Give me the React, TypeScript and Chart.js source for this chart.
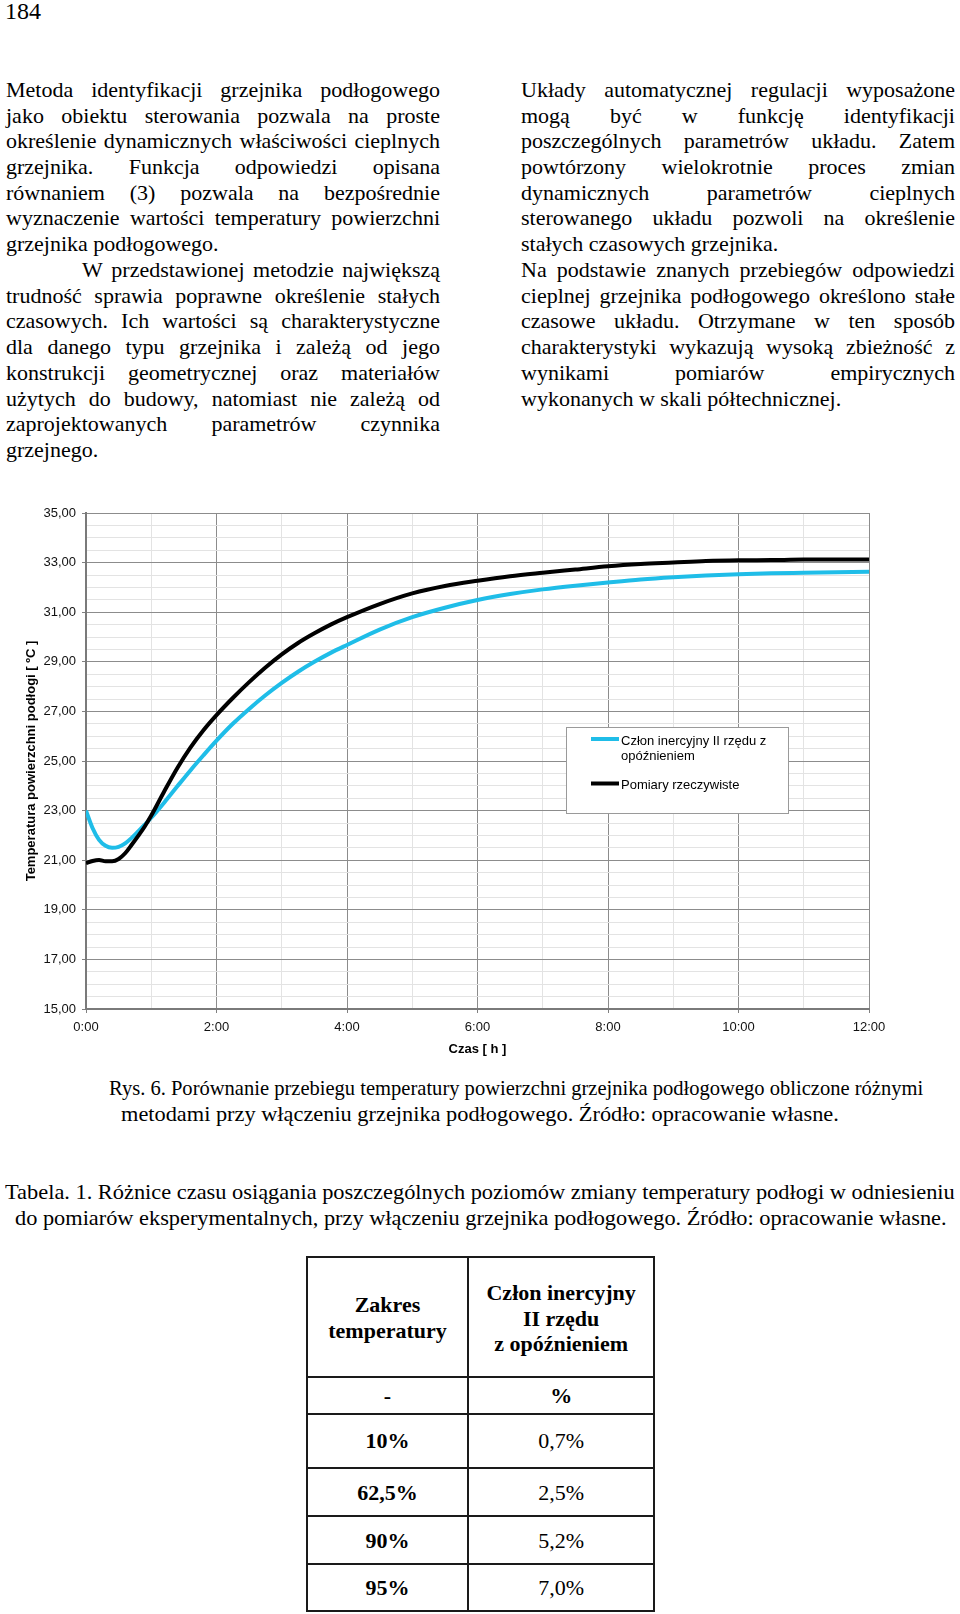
import React, { useEffect, useLayoutEffect, useRef } from "react";
import { Chart, registerables } from "chart.js";

Chart.register(...registerables);

// ---------- chart data ----------
const hours = [0, 0.1, 0.2, 0.3, 0.4, 0.5, 0.6, 0.7, 0.8, 0.9, 1.0, 1.2, 1.4, 1.6, 1.8, 2.0, 2.25, 2.5, 2.75, 3.0, 3.25, 3.5, 3.75, 4.0, 4.5, 5.0, 5.5, 6.0, 6.5, 7.0, 7.5, 8.0, 8.5, 9.0, 9.5, 10.0, 10.5, 11.0, 11.5, 12.0];
const modelTemps = [23.0, 22.3, 21.82, 21.58, 21.5, 21.54, 21.68, 21.9, 22.16, 22.43, 22.71, 23.33, 23.98, 24.62, 25.23, 25.82, 26.5, 27.1, 27.65, 28.15, 28.6, 29.0, 29.36, 29.68, 30.3, 30.8, 31.18, 31.49, 31.73, 31.92, 32.07, 32.2, 32.32, 32.41, 32.48, 32.53, 32.57, 32.59, 32.61, 32.63];
const measuredTemps = [20.88, 20.97, 21.01, 20.96, 20.96, 21.05, 21.28, 21.62, 21.98, 22.36, 22.8, 23.78, 24.72, 25.54, 26.24, 26.85, 27.54, 28.18, 28.77, 29.3, 29.76, 30.15, 30.5, 30.8, 31.33, 31.76, 32.06, 32.27, 32.45, 32.59, 32.72, 32.85, 32.94, 33.0, 33.06, 33.09, 33.1, 33.12, 33.12, 33.13];
const seriesNames = ["Człon inercyjny II rzędu z opóźnieniem", "Pomiary rzeczywiste"];
const legendText = [["Człon inercyjny II rzędu z", "opóźnieniem"], ["Pomiary rzeczywiste"]];
const xTitle = "Czas [ h ]";
const yTitle = "Temperatura powierzchni podłogi [ ºC ]";
const yMin = 15;
const yMax = 35;
const xMin = 0;
const xMax = 12;

// ---------- page text ----------
const leftLines = [
  "Metoda identyfikacji grzejnika podłogowego",
  "jako obiektu sterowania pozwala na proste",
  "określenie dynamicznych właściwości cieplnych",
  "grzejnika. Funkcja odpowiedzi opisana",
  "równaniem (3) pozwala na bezpośrednie",
  "wyznaczenie wartości temperatury powierzchni",
  "grzejnika podłogowego.",
  "W przedstawionej metodzie największą",
  "trudność sprawia poprawne określenie stałych",
  "czasowych. Ich wartości są charakterystyczne",
  "dla danego typu grzejnika i zależą od jego",
  "konstrukcji geometrycznej oraz materiałów",
  "użytych do budowy, natomiast nie zależą od",
  "zaprojektowanych parametrów czynnika",
  "grzejnego.",
];
const leftLast = [6, 14];
const leftIndent = [7];
const rightLines = [
  "Układy automatycznej regulacji wyposażone",
  "mogą być w funkcję identyfikacji",
  "poszczególnych parametrów układu. Zatem",
  "powtórzony wielokrotnie proces zmian",
  "dynamicznych parametrów cieplnych",
  "sterowanego układu pozwoli na określenie",
  "stałych czasowych grzejnika.",
  "Na podstawie znanych przebiegów odpowiedzi",
  "cieplnej grzejnika podłogowego określono stałe",
  "czasowe układu. Otrzymane w ten sposób",
  "charakterystyki wykazują wysoką zbieżność z",
  "wynikami pomiarów empirycznych",
  "wykonanych w skali półtechnicznej.",
];
const rightLast = [6, 12];
const figCaption = [
  "Rys. 6. Porównanie przebiegu temperatury powierzchni grzejnika podłogowego obliczone różnymi",
  "metodami przy włączeniu grzejnika podłogowego. Źródło: opracowanie własne.",
];
const tableCaption = [
  "Tabela. 1. Różnice czasu osiągania poszczególnych poziomów zmiany temperatury podłogi w odniesieniu",
  "do pomiarów eksperymentalnych, przy włączeniu grzejnika podłogowego. Źródło: opracowanie własne.",
];
const tableHeadLeft = ["Zakres", "temperatury"];
const tableHeadRight = ["Człon inercyjny", "II rzędu", "z opóźnieniem"];
const tableUnits = ["-", "%"];
const tableLevels = ["10%", "62,5%", "90%", "95%"];
const tableDiffs = ["0,7%", "2,5%", "5,2%", "7,0%"];

const SERIF = "'Liberation Serif', 'Times New Roman', serif";
const SANS = "'Liberation Sans', Arial, sans-serif";
const CYAN = "#1fbde8";
const FS = 22;
const LH = 26;
const BASE = (LH - 1.107 * FS) / 2 + 0.891 * FS;

const isMajorY = (v: number) => Math.abs(((v - yMin) / 2) - Math.round((v - yMin) / 2)) < 1e-6;
const isMajorX = (v: number) => Math.abs(v / 2 - Math.round(v / 2)) < 1e-6;

const legendPlugin = {
  id: "boxLegend",
  afterDraw(chart: any) {
    const ctx = chart.ctx as CanvasRenderingContext2D;
    ctx.save();
    const bx = 566, by = 237, bw = 222, bh = 86;
    ctx.fillStyle = "#ffffff";
    ctx.fillRect(bx, by, bw, bh);
    ctx.strokeStyle = "#9a9a9a";
    ctx.lineWidth = 1;
    ctx.strokeRect(bx + 0.5, by + 0.5, bw, bh);
    const colors = [CYAN, "#000000"];
    const lineY = [249, 293.5];
    const textY = [[251.5, 266.5], [295]];
    ctx.font = `13px ${SANS}`;
    ctx.textBaseline = "middle";
    ctx.textAlign = "left";
    for (let i = 0; i < 2; i++) {
      ctx.strokeStyle = colors[i];
      ctx.lineWidth = 4;
      ctx.beginPath();
      ctx.moveTo(591, lineY[i]);
      ctx.lineTo(619, lineY[i]);
      ctx.stroke();
      ctx.fillStyle = "#000";
      legendText[i].forEach((t, j) => ctx.fillText(t, 621, textY[i][j]));
    }
    ctx.restore();
  },
};

function TempChart() {
  const ref = useRef<HTMLCanvasElement>(null);
  useEffect(() => {
    if (!ref.current) return;
    const chart = new Chart(ref.current, {
      type: "line",
      data: {
        datasets: [
          {
            label: seriesNames[1],
            data: hours.map((h, i) => ({ x: h, y: measuredTemps[i] })),
            borderColor: "#000000",
            borderWidth: 4,
            pointRadius: 0,
            cubicInterpolationMode: "monotone",
            fill: false,
          },
          {
            label: seriesNames[0],
            data: hours.map((h, i) => ({ x: h, y: modelTemps[i] })),
            borderColor: CYAN,
            borderWidth: 4,
            pointRadius: 0,
            cubicInterpolationMode: "monotone",
            fill: false,
          },
        ],
      },
      options: {
        animation: false,
        responsive: false,
        maintainAspectRatio: false,
        layout: { padding: { left: 0, top: 23, right: 91, bottom: 0 } },
        plugins: { legend: { display: false }, tooltip: { enabled: false } },
        scales: {
          x: {
            type: "linear",
            min: xMin,
            max: xMax,
            afterFit: (s: any) => { s.height = 51; },
            ticks: {
              stepSize: 1,
              autoSkip: false,
              maxRotation: 0,
              padding: 7,
              color: "#111",
              font: { family: SANS, size: 13 },
              callback: (v: any) => (isMajorX(Number(v)) ? `${Number(v)}:00` : ""),
            },
            grid: {
              color: (c: any) => (c.tick && isMajorX(c.tick.value) ? "#8c8c8c" : "#e3e3e3"),
              tickColor: (c: any) => (c.tick && isMajorX(c.tick.value) ? "#808080" : "rgba(0,0,0,0)"),
              tickLength: 4,
              lineWidth: 1,
            },
            border: { display: true, color: "#7a7a7a", width: 2 },
            title: {
              display: true,
              text: xTitle,
              color: "#000",
              font: { family: SANS, size: 13, weight: "bold" },
              padding: { top: 0, bottom: 3 },
            },
          },
          y: {
            type: "linear",
            min: yMin,
            max: yMax,
            afterFit: (s: any) => { s.width = 86; },
            ticks: {
              stepSize: 0.5,
              autoSkip: false,
              padding: 6,
              color: "#111",
              font: { family: SANS, size: 13 },
              callback: (v: any) => (isMajorY(Number(v)) ? Number(v).toFixed(2).replace(".", ",") : ""),
            },
            grid: {
              color: (c: any) => (c.tick && isMajorY(c.tick.value) ? "#8c8c8c" : "#e3e3e3"),
              tickColor: (c: any) => (c.tick && isMajorY(c.tick.value) ? "#808080" : "rgba(0,0,0,0)"),
              tickLength: 4,
              lineWidth: 1,
            },
            border: { display: true, color: "#7a7a7a", width: 2 },
            title: {
              display: true,
              text: yTitle,
              color: "#000",
              font: { family: SANS, size: 13, weight: "bold" },
              padding: { top: 24, bottom: 0 },
            },
          },
        },
      } as any,
      plugins: [legendPlugin],
    });
    return () => chart.destroy();
  }, []);
  return (
    <div style={{ position: "absolute", left: 0, top: 490, width: 960, height: 570 }}>
      <canvas ref={ref} width={960} height={570} style={{ display: "block", width: 960, height: 570 }} />
    </div>
  );
}

function TextLine({ text, left, width, baseline, justify, indent = 0, bold = false }: any) {
  const style: any = {
    position: "absolute",
    left: left + indent,
    width: width - indent,
    top: baseline - BASE,
    height: LH,
    lineHeight: LH + "px",
    fontSize: FS,
    fontWeight: bold ? "bold" : "normal",
    whiteSpace: "pre",
    display: "flex",
    justifyContent: justify ? "space-between" : "flex-start",
  };
  return (
    <div style={style}>
      {justify ? text.split(" ").map((w: string, i: number) => <span key={i}>{w}</span>) : <span>{text}</span>}
    </div>
  );
}

function FitLine({ text, x0, x1, baseline }: any) {
  const ref = useRef<HTMLSpanElement>(null);
  useLayoutEffect(() => {
    const el = ref.current;
    if (!el) return;
    el.style.transform = "none";
    const w = el.offsetWidth;
    if (w > 0) el.style.transform = `scaleX(${(x1 - x0) / w})`;
  }, [text, x0, x1]);
  return (
    <div style={{ position: "absolute", left: x0, top: baseline - BASE, height: LH, lineHeight: LH + "px", fontSize: FS, whiteSpace: "nowrap" }}>
      <span ref={ref} style={{ display: "inline-block", transformOrigin: "0 0" }}>{text}</span>
    </div>
  );
}

function CenterText({ text, cx, baseline, bold = false }: any) {
  return (
    <div style={{ position: "absolute", left: cx - 150, width: 300, textAlign: "center", top: baseline - BASE, height: LH, lineHeight: LH + "px", fontSize: FS, fontWeight: bold ? "bold" : "normal", whiteSpace: "nowrap" }}>
      {text}
    </div>
  );
}

function Table() {
  const xs = [306.7, 468.3, 654];
  const ys = [1256.7, 1377.3, 1414.3, 1467.7, 1516, 1564, 1611];
  const c1 = (xs[0] + xs[1]) / 2;
  const c2 = (xs[1] + xs[2]) / 2;
  const lw = 2;
  const col = "#1a1a1a";
  const parts: any[] = [];
  xs.forEach((x, i) =>
    parts.push(<div key={"v" + i} style={{ position: "absolute", left: x - lw / 2, top: ys[0] - lw / 2, width: lw, height: ys[ys.length - 1] - ys[0] + lw, background: col }} />)
  );
  ys.forEach((y, i) =>
    parts.push(<div key={"h" + i} style={{ position: "absolute", left: xs[0] - lw / 2, top: y - lw / 2, width: xs[2] - xs[0] + lw, height: lw, background: col }} />)
  );
  const headL = [1312, 1338.7];
  const headR = [1300.3, 1326, 1351.3];
  tableHeadLeft.forEach((t, i) => parts.push(<CenterText key={"hl" + i} text={t} cx={c1} baseline={headL[i]} bold />));
  tableHeadRight.forEach((t, i) => parts.push(<CenterText key={"hr" + i} text={t} cx={c2} baseline={headR[i]} bold />));
  parts.push(<CenterText key="u1" text={tableUnits[0]} cx={c1} baseline={1403.7} bold />);
  parts.push(<CenterText key="u2" text={tableUnits[1]} cx={c2} baseline={1403.7} bold />);
  const rowBase = [1448.7, 1500.3, 1548.7, 1595.3];
  tableLevels.forEach((t, i) => parts.push(<CenterText key={"l" + i} text={t} cx={c1} baseline={rowBase[i]} bold />));
  tableDiffs.forEach((t, i) => parts.push(<CenterText key={"d" + i} text={t} cx={c2} baseline={rowBase[i]} />));
  return <>{parts}</>;
}

export default function App() {
  const pitch = 25.72;
  const base0 = 97.3;
  return (
    <div style={{ position: "absolute", left: 0, top: 0, width: 960, height: 1614, background: "#fff", color: "#000", fontFamily: SERIF, overflow: "hidden" }}>
      <div style={{ position: "absolute", left: 5, top: -1, fontSize: 24, lineHeight: "24px" }}>184</div>
      {leftLines.map((t, i) => (
        <TextLine key={"l" + i} text={t} left={6} width={434} baseline={base0 + pitch * i} justify={!leftLast.includes(i)} indent={leftIndent.includes(i) ? 76 : 0} />
      ))}
      {rightLines.map((t, i) => (
        <TextLine key={"r" + i} text={t} left={521} width={434} baseline={base0 + pitch * i} justify={!rightLast.includes(i)} />
      ))}
      <TempChart />
      <FitLine text={figCaption[0]} x0={109} x1={923} baseline={1095.4} />
      <FitLine text={figCaption[1]} x0={121} x1={839} baseline={1121.1} />
      <FitLine text={tableCaption[0]} x0={5} x1={955} baseline={1199.3} />
      <FitLine text={tableCaption[1]} x0={15} x1={947} baseline={1225} />
      <Table />
    </div>
  );
}
